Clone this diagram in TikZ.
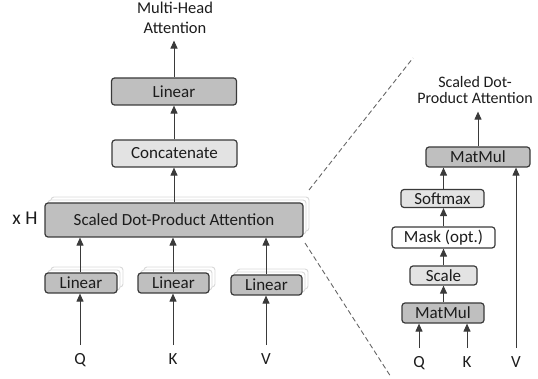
\documentclass[tikz,border=0pt]{standalone}
\usepackage{fontspec}
\setmainfont{Carlito}
\usetikzlibrary{arrows.meta}
\usetikzlibrary{shadows}

\definecolor{boxline}{HTML}{3A3A3A}
\definecolor{darkfill}{HTML}{BFBFBF}
\definecolor{lightfill}{HTML}{E3E3E3}
\definecolor{txt}{HTML}{1C1C1C}

\tikzset{
  block/.style={draw=boxline, line width=1.2pt, rounded corners=3pt, minimum height=20pt, inner sep=0pt, text=txt},
  dark/.style={block, fill=darkfill},
  light/.style={block, fill=lightfill},
  stacked/.style={double copy shadow={shadow xshift=3pt, shadow yshift=3pt, draw=black!15, fill=white, line width=0.9pt}},
  flow/.style={draw=boxline, line width=1pt, -{Triangle[width=7pt,length=8pt]}},
  lbl/.style={text=txt, inner sep=0pt, text height=11pt, text depth=3pt, outer sep=8pt},
  zoomline/.style={draw=black!60, line width=0.9pt, dash pattern=on 5pt off 3pt}
}

\begin{document}
\begin{tikzpicture}[x=1pt, y=-1pt, font=\fontsize{17}{19}\selectfont]
  \useasboundingbox (0,0) rectangle (538,379);

  % multi-head side
  \node[text=txt, align=center, inner sep=0pt, outer sep=7pt, font=\fontsize{16.5}{19.5}\selectfont] (mhtitle) at (175,18) {Multi-Head\\Attention};
  \node[dark, minimum width=125pt, minimum height=27pt] (lin) at (174,91.5) {Linear};
  \node[light, minimum width=125pt, minimum height=27pt] (concat) at (174.5,153.5) {Concatenate};
  \node[dark, stacked, minimum width=258pt, minimum height=34pt] (sdpa) at (174,220) {Scaled Dot-Product Attention};
  \node[text=txt, inner sep=0pt, font=\fontsize{19.5}{20}\selectfont] (heads) at (25,218) {x H};

  \node[dark, stacked, minimum width=72pt] (linq) at (81,283) {Linear};
  \node[dark, stacked, minimum width=71pt] (link) at (173.5,283) {Linear};
  \node[dark, stacked, minimum width=71pt] (linv) at (266.5,285) {Linear};

  \node[lbl] (q) at (80,360) {Q};
  \node[lbl] (k) at (173,360) {K};
  \node[lbl] (v) at (266,360) {V};

  \draw[flow] (q.north) -- (linq.south -| q.north);
  \draw[flow] (k.north) -- (link.south -| k.north);
  \draw[flow] (v.north) -- (linv.south -| v.north);
  \draw[flow] (linq.north -| q.north) -- (sdpa.south -| q.north);
  \draw[flow] (link.north -| k.north) -- (sdpa.south -| k.north);
  \draw[flow] (linv.north -| v.north) -- (sdpa.south -| v.north);
  \draw[flow] (sdpa.north -| lin) -- (concat.south -| lin);
  \draw[flow] (concat.north -| lin) -- (lin.south);
  \draw[flow] (lin.north) -- (mhtitle.south -| lin);

  % zoom lines
  \coordinate (zta) at (309,190);
  \coordinate (ztb) at (413,58);
  \coordinate (zba) at (305,243);
  \coordinate (zbb) at (391,377);
  \draw[zoomline] (zta) -- (ztb);
  \draw[zoomline] (zba) -- (zbb);

  % scaled dot-product side
  \node[text=txt, align=center, inner sep=0pt, outer sep=8pt, font=\fontsize{16}{16}\selectfont] (sdtitle) at (475,90) {Scaled Dot-\\Product Attention};
  \node[dark, minimum width=104pt] (mmtop) at (478,157) {MatMul};
  \node[light, minimum width=83pt, minimum height=18pt] (softmax) at (442.5,198.5) {Softmax};
  \node[block, fill=white, minimum width=103pt, minimum height=21pt] (mask) at (443.5,237.5) {Mask (opt.)};
  \node[light, minimum width=67pt, minimum height=19pt] (scale) at (443.5,275.5) {Scale};
  \node[dark, minimum width=82pt] (mmbot) at (443,313) {MatMul};

  \node[lbl] (q2) at (419,363) {Q};
  \node[lbl] (k2) at (467,363) {K};
  \node[lbl] (v2) at (516,363) {V};

  \draw[flow] (q2.north) -- (mmbot.south -| q2.north);
  \draw[flow] (k2.north) -- (mmbot.south -| k2.north);
  \draw[flow] (v2.north) -- (mmtop.south -| v2.north);
  \draw[flow] (mmbot.north -| scale) -- (scale.south);
  \draw[flow] (scale.north) -- (mask.south -| scale);
  \draw[flow] (mask.north -| scale) -- (softmax.south -| scale);
  \draw[flow] (softmax.north -| scale) -- (mmtop.south -| scale);
  \draw[flow] (mmtop.north) -- (sdtitle.south -| mmtop);
\end{tikzpicture}
\end{document}
